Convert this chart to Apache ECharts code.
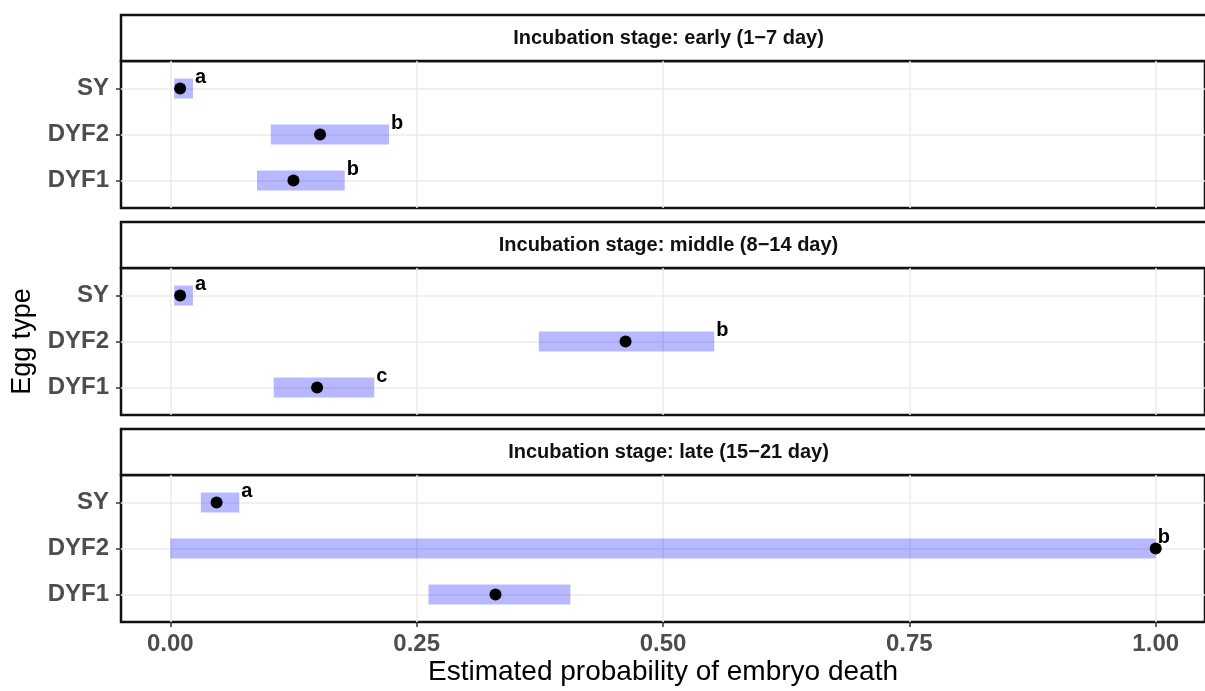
<!DOCTYPE html>
<html>
<head>
<meta charset="utf-8">
<script src="https://cdn.jsdelivr.net/npm/echarts@6/dist/echarts.min.js"></script>
<style>
  html, body { margin: 0; padding: 0; background: #fff; }
  #chart { width: 1205px; height: 691px; }
</style>
</head>
<body>
<div id="chart"></div>
<script>
// egg types, top to bottom as drawn
var categories = ['SY', 'DYF2', 'DYF1'];
var stageLabels = [
    'Incubation stage: early (1\u22127 day)',
    'Incubation stage: middle (8\u221214 day)',
    'Incubation stage: late (15\u221221 day)'
];
var xTicks = [0, 0.25, 0.5, 0.75, 1];

// estimate, lower and upper bound, letter, per egg type (SY, DYF2, DYF1)
var earlyEst = [0.010, 0.152, 0.125];
var earlyLow = [0.004, 0.102, 0.088];
var earlyUp = [0.023, 0.222, 0.177];
var earlyLetter = ['a', 'b', 'b'];

var middleEst = [0.010, 0.462, 0.149];
var middleLow = [0.004, 0.374, 0.105];
var middleUp = [0.023, 0.552, 0.207];
var middleLetter = ['a', 'b', 'c'];

var lateEst = [0.047, 1.000, 0.330];
var lateLow = [0.031, 0.000, 0.262];
var lateUp = [0.070, 1.000, 0.406];
var lateLetter = ['a', 'b', ''];

var stages = [
    { est: earlyEst, low: earlyLow, up: earlyUp, letter: earlyLetter },
    { est: middleEst, low: middleLow, up: middleUp, letter: middleLetter },
    { est: lateEst, low: lateLow, up: lateUp, letter: lateLetter }
];

// category index -> y position (SY on top)
function catY(i) { return categories.length - i; }

var panelLeft = 121, panelWidth = 1095, panelHeight = 147, stripHeight = 46;
var panelTops = [61, 268, 475];

var grids = [], xAxes = [], yAxes = [], series = [], titles = [], graphics = [];

stages.forEach(function (st, p) {
    var top = panelTops[p];
    grids.push({
        left: panelLeft, top: top, width: panelWidth, height: panelHeight,
        show: true, borderColor: '#111', borderWidth: 2.5, backgroundColor: '#fff'
    });
    var last = p === stages.length - 1;
    xAxes.push({
        gridIndex: p, type: 'value', min: -0.05, max: 1.05,
        axisLine: { show: false, onZero: false },
        splitLine: { show: false },
        axisTick: { show: last, customValues: xTicks, length: 5, lineStyle: { color: '#333', width: 1.5 } },
        axisLabel: {
            show: last, customValues: xTicks, margin: 10,
            fontFamily: 'Liberation Sans', fontWeight: 'bold', fontSize: 24, color: '#4d4d4d',
            formatter: function (v) { return v.toFixed(2); }
        },
        name: last ? 'Estimated probability of embryo death' : '',
        nameLocation: 'middle', nameGap: 36,
        nameTextStyle: { fontFamily: 'Liberation Sans', fontSize: 28, color: '#000' }
    });
    yAxes.push({
        gridIndex: p, type: 'value', min: 0.4, max: 3.6,
        axisLine: { show: false, onZero: false },
        splitLine: { show: false },
        axisTick: { customValues: [1, 2, 3], length: 5, lineStyle: { color: '#333', width: 1.5 } },
        axisLabel: {
            customValues: [1, 2, 3], margin: 12,
            fontFamily: 'Liberation Sans', fontWeight: 'bold', fontSize: 24, color: '#4d4d4d',
            formatter: function (v) { return categories[categories.length - Math.round(v)]; }
        },
        name: p === 1 ? 'Egg type' : '',
        nameLocation: 'middle', nameGap: 85, nameRotate: 90,
        nameTextStyle: { fontFamily: 'Liberation Sans', fontSize: 27, color: '#000' }
    });

    // strip box + label
    graphics.push({
        type: 'rect', z: 1,
        shape: { x: panelLeft, y: top - stripHeight, width: panelWidth, height: stripHeight },
        style: { fill: '#fff', stroke: '#111', lineWidth: 2.5 }
    });
    titles.push({
        text: stageLabels[p],
        left: panelLeft + panelWidth / 2, top: top - stripHeight / 2 - 10,
        textAlign: 'center', padding: 0, z: 20,
        textStyle: { fontFamily: 'Liberation Sans', fontWeight: 'bold', fontSize: 20, color: '#111' }
    });

    // grid lines
    series.push({
        type: 'line', xAxisIndex: p, yAxisIndex: p, data: [], z: 1,
        markLine: {
            silent: true, symbol: 'none', animation: false, z: 1,
            label: { show: false },
            lineStyle: { color: '#ebebeb', width: 1.5, type: 'solid' },
            data: xTicks.map(function (v) { return { xAxis: v }; })
                .concat([1, 2, 3].map(function (v) { return { yAxis: v }; }))
        }
    });

    // interval bars with letters
    var barData = categories.map(function (c, i) {
        return [st.low[i], st.up[i], catY(i), st.letter[i]];
    });
    series.push({
        type: 'custom', xAxisIndex: p, yAxisIndex: p, z: 3,
        data: barData,
        encode: { x: [0, 1], y: 2 },
        renderItem: function (params, api) {
            var y = api.value(2);
            var p0 = api.coord([api.value(0), y]);
            var p1 = api.coord([api.value(1), y]);
            var letter = barData[params.dataIndex][3];
            return {
                type: 'group',
                children: [{
                    type: 'rect',
                    shape: { x: p0[0], y: p0[1] - 10, width: p1[0] - p0[0], height: 20 },
                    style: { fill: 'rgba(0,0,255,0.28)' }
                }, {
                    type: 'text',
                    style: {
                        x: p1[0] + 2, y: p0[1] - 11, text: letter,
                        font: 'bold 20px "Liberation Sans"', fill: '#000',
                        align: 'left', verticalAlign: 'middle'
                    }
                }]
            };
        }
    });

    // point estimates
    series.push({
        type: 'scatter', xAxisIndex: p, yAxisIndex: p, z: 4,
        symbolSize: 12, itemStyle: { color: '#000', opacity: 1 },
        data: categories.map(function (c, i) { return [st.est[i], catY(i)]; })
    });
});

var chart = echarts.init(document.getElementById('chart'), null, { renderer: 'canvas' });
chart.setOption({
    animation: false,
    backgroundColor: '#fff',
    title: titles,
    grid: grids,
    xAxis: xAxes,
    yAxis: yAxes,
    graphic: graphics,
    series: series
});
</script>
</body>
</html>
